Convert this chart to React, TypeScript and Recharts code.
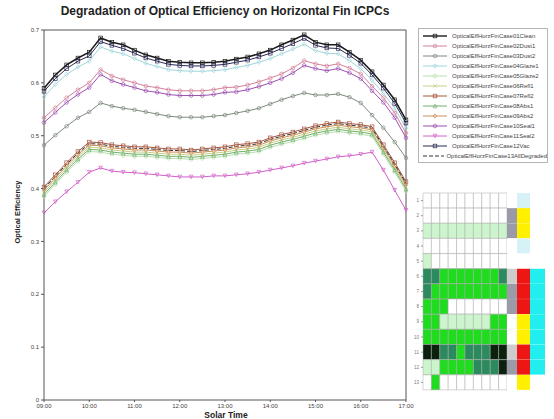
import React from 'react';
import { LineChart, Line, XAxis, YAxis, ReferenceLine, BarChart, Bar, Cell } from 'recharts';

// solar time, every 15 minutes
const times = [
  '09:00', '09:15', '09:30', '09:45', '10:00', '10:15', '10:30', '10:45',
  '11:00', '11:15', '11:30', '11:45', '12:00', '12:15', '12:30', '12:45',
  '13:00', '13:15', '13:30', '13:45', '14:00', '14:15', '14:30', '14:45',
  '15:00', '15:15', '15:30', '15:45', '16:00', '16:15', '16:30', '16:45', '17:00',
];

const yTicks = [0, 0.1, 0.2, 0.3, 0.4, 0.5, 0.6, 0.7];

const seriesNames = [
  'OpticalEffHorzFinCase01Clean', 'OpticalEffHorzFinCase02Dust1', 'OpticalEffHorzFinCase03Dust2',
  'OpticalEffHorzFinCase04Glaze1', 'OpticalEffHorzFinCase05Glaze2', 'OpticalEffHorzFinCase06Refl1',
  'OpticalEffHorzFinCase07Refl2', 'OpticalEffHorzFinCase08Abs1', 'OpticalEffHorzFinCase09Abs2',
  'OpticalEffHorzFinCase10Seal1', 'OpticalEffHorzFinCase11Seal2', 'OpticalEffHorzFinCase12Vac',
  'OpticalEffHorzFinCase13AllDegraded',
];

const s1 = [0.590, 0.615, 0.634, 0.647, 0.658, 0.685, 0.677, 0.672, 0.662, 0.653, 0.647, 0.641, 0.639, 0.638, 0.638, 0.639, 0.641, 0.645, 0.649, 0.655, 0.662, 0.672, 0.681, 0.691, 0.677, 0.672, 0.672, 0.658, 0.643, 0.621, 0.596, 0.568, 0.530];
const s2 = [0.534, 0.553, 0.572, 0.587, 0.600, 0.625, 0.613, 0.606, 0.600, 0.594, 0.591, 0.587, 0.585, 0.585, 0.585, 0.587, 0.591, 0.592, 0.596, 0.602, 0.609, 0.617, 0.628, 0.642, 0.636, 0.632, 0.636, 0.628, 0.617, 0.594, 0.572, 0.543, 0.505];
const s3 = [0.482, 0.501, 0.518, 0.534, 0.545, 0.562, 0.556, 0.552, 0.549, 0.545, 0.541, 0.537, 0.535, 0.535, 0.535, 0.537, 0.539, 0.543, 0.547, 0.552, 0.560, 0.568, 0.575, 0.581, 0.577, 0.577, 0.579, 0.573, 0.562, 0.539, 0.515, 0.488, 0.458];
const s4 = [0.573, 0.597, 0.616, 0.630, 0.641, 0.668, 0.660, 0.655, 0.646, 0.637, 0.631, 0.625, 0.623, 0.622, 0.622, 0.623, 0.625, 0.629, 0.633, 0.639, 0.646, 0.655, 0.664, 0.673, 0.661, 0.656, 0.655, 0.642, 0.627, 0.605, 0.580, 0.552, 0.514];
const s5 = [0.385, 0.408, 0.431, 0.452, 0.470, 0.469, 0.465, 0.463, 0.461, 0.461, 0.459, 0.457, 0.457, 0.455, 0.457, 0.459, 0.461, 0.465, 0.467, 0.470, 0.478, 0.484, 0.489, 0.495, 0.501, 0.505, 0.508, 0.505, 0.503, 0.499, 0.465, 0.431, 0.395];
const s6 = [0.393, 0.416, 0.439, 0.460, 0.478, 0.477, 0.473, 0.471, 0.469, 0.469, 0.467, 0.465, 0.465, 0.463, 0.465, 0.467, 0.469, 0.473, 0.475, 0.478, 0.486, 0.492, 0.497, 0.503, 0.509, 0.513, 0.516, 0.513, 0.511, 0.507, 0.473, 0.439, 0.403];
const s7 = [0.403, 0.426, 0.449, 0.470, 0.488, 0.487, 0.483, 0.481, 0.479, 0.479, 0.477, 0.475, 0.475, 0.473, 0.475, 0.477, 0.479, 0.483, 0.485, 0.488, 0.496, 0.502, 0.507, 0.513, 0.519, 0.523, 0.526, 0.523, 0.521, 0.517, 0.483, 0.449, 0.413];
const s8 = [0.389, 0.412, 0.435, 0.456, 0.474, 0.473, 0.469, 0.467, 0.465, 0.465, 0.463, 0.461, 0.461, 0.459, 0.461, 0.463, 0.465, 0.469, 0.471, 0.474, 0.482, 0.488, 0.493, 0.499, 0.505, 0.509, 0.512, 0.509, 0.507, 0.503, 0.469, 0.435, 0.399];
const s9 = [0.397, 0.420, 0.443, 0.464, 0.482, 0.481, 0.477, 0.475, 0.473, 0.473, 0.471, 0.469, 0.469, 0.467, 0.469, 0.471, 0.473, 0.477, 0.479, 0.482, 0.490, 0.496, 0.501, 0.507, 0.513, 0.517, 0.520, 0.517, 0.515, 0.511, 0.477, 0.443, 0.407];
const s10 = [0.525, 0.544, 0.563, 0.578, 0.591, 0.616, 0.604, 0.597, 0.591, 0.585, 0.582, 0.578, 0.576, 0.576, 0.576, 0.578, 0.582, 0.583, 0.587, 0.593, 0.600, 0.608, 0.619, 0.633, 0.627, 0.623, 0.627, 0.619, 0.608, 0.585, 0.563, 0.534, 0.496];
const s11 = [0.354, 0.375, 0.394, 0.412, 0.431, 0.439, 0.433, 0.431, 0.430, 0.428, 0.426, 0.424, 0.422, 0.422, 0.422, 0.424, 0.424, 0.426, 0.428, 0.431, 0.435, 0.439, 0.443, 0.448, 0.452, 0.456, 0.460, 0.462, 0.465, 0.469, 0.435, 0.397, 0.359];
const s12 = [0.584, 0.608, 0.627, 0.641, 0.651, 0.678, 0.671, 0.665, 0.656, 0.647, 0.641, 0.635, 0.633, 0.632, 0.632, 0.633, 0.635, 0.639, 0.643, 0.649, 0.656, 0.665, 0.674, 0.684, 0.671, 0.666, 0.665, 0.652, 0.637, 0.615, 0.590, 0.561, 0.524];
const s13 = [0.400, 0.423, 0.446, 0.467, 0.485, 0.484, 0.480, 0.478, 0.476, 0.476, 0.474, 0.472, 0.472, 0.470, 0.472, 0.474, 0.476, 0.480, 0.482, 0.485, 0.493, 0.499, 0.504, 0.510, 0.516, 0.520, 0.523, 0.520, 0.518, 0.514, 0.480, 0.446, 0.410];

const seriesValues = [s1, s2, s3, s4, s5, s6, s7, s8, s9, s10, s11, s12, s13];

// status panel: one row per case
const rowLabels = ['1', '2', '3', '4', '5', '6', '7', '8', '9', '10', '11', '12', '13'];
const gridLevels = [
  [0, 0, 0, 0, 0, 0, 0, 0, 0, 0],
  [0, 0, 0, 0, 0, 0, 0, 0, 0, 0],
  [1, 1, 1, 1, 1, 1, 1, 1, 1, 1],
  [0, 0, 0, 0, 0, 0, 0, 0, 0, 0],
  [1, 0, 0, 0, 0, 0, 0, 0, 0, 0],
  [3, 3, 2, 2, 2, 2, 2, 2, 2, 3],
  [3, 2, 2, 2, 2, 2, 2, 2, 2, 2],
  [2, 2, 2, 0, 0, 0, 0, 0, 0, 0],
  [2, 2, 1, 1, 1, 1, 1, 1, 2, 2],
  [2, 2, 2, 2, 2, 2, 2, 2, 2, 2],
  [4, 4, 3, 3, 2, 3, 3, 3, 4, 4],
  [1, 1, 2, 2, 2, 2, 3, 3, 3, 4],
  [0, 2, 0, 0, 0, 0, 0, 0, 0, 0],
];
const grayLevels = [0, 2, 2, 0, 0, 1, 2, 2, 0, 0, 1, 2, 0];
const flagLevels = [1, 2, 2, 1, 0, 3, 3, 3, 2, 2, 3, 3, 2];
const cyanLevels = [0, 0, 0, 0, 0, 1, 1, 1, 1, 1, 1, 1, 0];

const colors = ['#1a1a1a', '#d4809a', '#7d8a7d', '#9fd6dc', '#b9e0b0', '#c9cf86', '#a5553f', '#6fb06a', '#c98f5a', '#9c4fb0', '#d060c8', '#2a2a55', '#333333'];
const markers = ['s', 'o', 'o', 'd', 'o', 'x', 's', '^', 'd', 'o', 'v', 's', ''];
const dashes = ['', '', '', '', '', '', '', '', '', '', '', '', '4 2'];

const GRID_W = [8.4, 8.4, 8.4, 8.4, 8.4, 8.4, 8.4, 8.4, 8.4, 8.4];
const GRAY_W = 10;
const FLAG_W = 13;
const CYAN_W = 15;

const gridColor = (v: number) => ['#ffffff', '#cdf5cd', '#1fdc1f', '#2b8a5e', '#0b200d'][v];
const grayColor = (v: number) => ['#ffffff', '#cccccc', '#9a9aa8'][v];
const flagColor = (v: number) => ['#ffffff', '#d6f2f6', '#fff000', '#ee1515'][v];
const cyanColor = (v: number) => ['#ffffff', '#22eef0'][v];

const data = times.map((t, i) => {
  const row: Record<string, number | string> = { time: t };
  seriesValues.forEach((s, k) => { row[`s${k + 1}`] = s[i]; });
  return row;
});

const panelRows = rowLabels.map((r) => ({ row: r }));

const FONT = '"Liberation Sans", Arial, sans-serif';

function Marker({ shape, cx, cy, color }: { shape: string; cx: number; cy: number; color: string }) {
  const r = 1.8;
  if (shape === 's') return <rect x={cx - r} y={cy - r} width={2 * r} height={2 * r} fill="none" stroke={color} strokeWidth={0.7} />;
  if (shape === 'd') return <path d={`M${cx},${cy - r - 0.4}L${cx + r},${cy}L${cx},${cy + r + 0.4}L${cx - r},${cy}Z`} fill="none" stroke={color} strokeWidth={0.7} />;
  if (shape === '^') return <path d={`M${cx},${cy - r}L${cx + r},${cy + r}L${cx - r},${cy + r}Z`} fill="none" stroke={color} strokeWidth={0.7} />;
  if (shape === 'v') return <path d={`M${cx},${cy + r}L${cx + r},${cy - r}L${cx - r},${cy - r}Z`} fill="none" stroke={color} strokeWidth={0.7} />;
  if (shape === 'x') return <path d={`M${cx - r},${cy - r}L${cx + r},${cy + r}M${cx - r},${cy + r}L${cx + r},${cy - r}`} stroke={color} strokeWidth={0.7} />;
  if (shape === 'o') return <circle cx={cx} cy={cy} r={r} fill="none" stroke={color} strokeWidth={0.7} />;
  return <g />;
}

const makeDot = (k: number) => (props: any) => (
  <Marker key={`d${k}-${props.index}`} shape={markers[k]} cx={props.cx} cy={props.cy} color={colors[k]} />
);

const tickStyle = { fontSize: 6, fill: '#444', fontFamily: FONT };

export default function App() {
  return (
    <div style={{ position: 'absolute', left: 0, top: 0, width: 554, height: 419, background: '#fff', overflow: 'hidden', fontFamily: FONT }}>
      <div style={{ position: 'absolute', left: 44, width: 362, top: 4, textAlign: 'center', fontSize: 12, fontWeight: 'bold', color: '#222', whiteSpace: 'nowrap' }}>
        Degradation of Optical Efficiency on Horizontal Fin ICPCs
      </div>
      <div style={{ position: 'absolute', left: 17, top: 212, transform: 'translate(-50%, -50%) rotate(-90deg)', fontSize: 7.5, fontWeight: 'bold', whiteSpace: 'nowrap', color: '#222' }}>
        Optical Efficiency
      </div>
      <div style={{ position: 'absolute', left: 226, top: 410, transform: 'translateX(-50%)', fontSize: 8.5, lineHeight: '10px', fontWeight: 'bold', whiteSpace: 'nowrap', color: '#222' }}>
        Solar Time
      </div>
      <div style={{ position: 'absolute', left: 0, top: 0 }}>
        <LineChart width={554} height={419} data={data} margin={{ top: 30, right: 148, bottom: 7, left: 14 }}>
          <XAxis dataKey="time" interval={3} tick={tickStyle} tickSize={2} height={12} stroke="#555" />
          <YAxis domain={[0, 0.7]} ticks={yTicks} tick={tickStyle} tickSize={3} width={30} stroke="#555" />
          <ReferenceLine y={0.7} stroke="#555" />
          <ReferenceLine x="17:00" stroke="#555" />
          {seriesValues.map((_, k) => (
            <Line
              key={k}
              type="linear"
              dataKey={`s${k + 1}`}
              name={seriesNames[k]}
              stroke={colors[k]}
              strokeWidth={k === 0 ? 1.5 : 1}
              strokeDasharray={dashes[k] || undefined}
              dot={markers[k] ? makeDot(k) : false}
              isAnimationActive={false}
            />
          ))}
        </LineChart>
      </div>
      <div style={{ position: 'absolute', left: 418, top: 28, border: '1px solid #b5b5b5', background: '#fff', width: 130, height: 135, boxSizing: 'border-box', padding: '2px 0 0 1px' }}>
        {seriesNames.map((n, k) => (
          <div key={n} style={{ display: 'flex', alignItems: 'center', height: 10, lineHeight: '10px' }}>
            <svg width={30} height={10}>
              <line x1={3} x2={27} y1={5} y2={5} stroke={colors[k]} strokeWidth={k === 0 ? 1.4 : 1} strokeDasharray={dashes[k] || undefined} />
              <Marker shape={markers[k]} cx={15} cy={5} color={colors[k]} />
            </svg>
            <span style={{ fontSize: 6, color: '#444', whiteSpace: 'nowrap', marginLeft: 2 }}>{n}</span>
          </div>
        ))}
      </div>
      <div style={{ position: 'absolute', left: 413, top: 188 }}>
        <BarChart width={135} height={205} data={panelRows} layout="vertical" barCategoryGap={0} margin={{ top: 5, right: 3, bottom: 3, left: 0 }}>
          <XAxis type="number" domain={[0, 122]} hide />
          <YAxis type="category" dataKey="row" width={10} tick={{ fontSize: 4.5, fill: '#777', fontFamily: FONT }} tickSize={2} axisLine={false} stroke="#999" />
          {GRID_W.map((w, j) => (
            <Bar key={`g${j}`} dataKey={() => w} stackId="p" isAnimationActive={false}>
              {panelRows.map((_, i) => (
                <Cell key={i} fill={gridColor(gridLevels[i][j])} stroke="#a8a8a8" strokeWidth={0.5} />
              ))}
            </Bar>
          ))}
          <Bar dataKey={() => GRAY_W} stackId="p" isAnimationActive={false}>
            {panelRows.map((_, i) => (
              <Cell key={i} fill={grayColor(grayLevels[i])} />
            ))}
          </Bar>
          <Bar dataKey={() => FLAG_W} stackId="p" isAnimationActive={false}>
            {panelRows.map((_, i) => (
              <Cell key={i} fill={flagColor(flagLevels[i])} />
            ))}
          </Bar>
          <Bar dataKey={() => CYAN_W} stackId="p" isAnimationActive={false}>
            {panelRows.map((_, i) => (
              <Cell key={i} fill={cyanColor(cyanLevels[i])} />
            ))}
          </Bar>
        </BarChart>
      </div>
    </div>
  );
}
